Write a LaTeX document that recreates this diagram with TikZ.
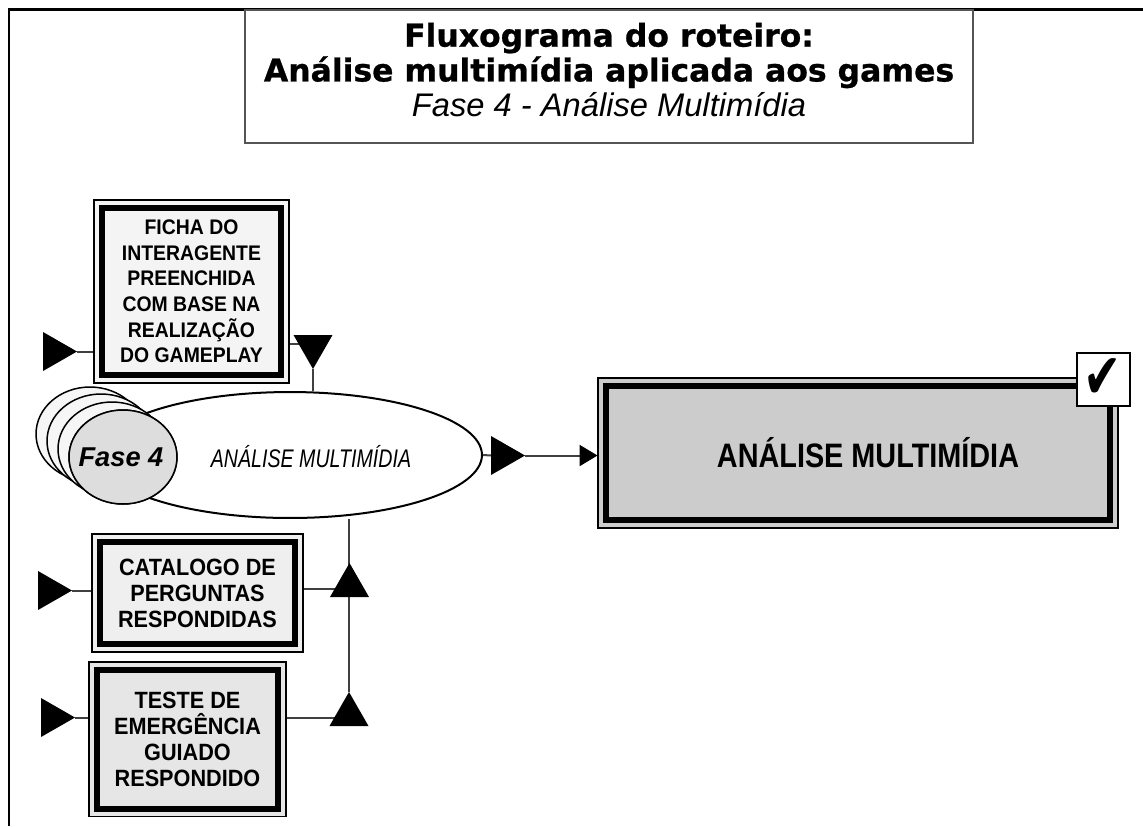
\documentclass[tikz,border=0pt]{standalone}
\usepackage{fontspec}
\setmainfont{Liberation Sans}
\newfontfamily\heavyfont{DejaVu Sans}[FakeBold=0.8]
\newfontfamily\boxfont{Liberation Sans}[FakeStretch=0.92]
\newfontfamily\narrowfont{Liberation Sans}[FakeStretch=0.85]
\newfontfamily\condfont{Liberation Sans}[FakeStretch=0.77]
\newfontfamily\checkfont{DejaVu Sans}[FakeStretch=0.72]
\usepackage{xcolor}
\usepackage{tikz}
\usetikzlibrary{
    shapes.geometric,
    positioning,
    arrows.meta,
    calc,
    backgrounds
}

\definecolor{finalgray}{HTML}{CCCCCC}
\definecolor{fichagray}{HTML}{F4F4F4}
\definecolor{catgray}{HTML}{EFEFEF}
\definecolor{testgray}{HTML}{E6E6E6}
\definecolor{phasegray}{HTML}{DDDDDD}
\definecolor{phaseback}{HTML}{F6F6F6}
\definecolor{linegray}{HTML}{404040}
\definecolor{titleline}{HTML}{555555}

\begin{document}
\begin{tikzpicture}[
      x=0.02cm, y=-0.02cm,
      pageframe/.style={draw, line width=0.06cm},
      titlebox/.style={draw=titleline, line width=0.04cm, minimum width=14.58cm, minimum height=2.66cm, align=center, font=\fontsize{18.6}{19.8}\selectfont},
      dbox/.style={draw, fill=#1, line width=0.12cm, outer sep=0.17cm, inner sep=2pt, align=center,
        preaction={draw, line width=0.04cm, double=#1, double distance=0.28cm}},
      inbox/.style={dbox=#1, font=\boxfont\bfseries\fontsize{13.4}{14.8}\selectfont},
      markT/.style={isosceles triangle, isosceles triangle stretches, fill=black, inner sep=0pt, outer sep=0pt, minimum width=0.78cm, minimum height=0.68cm},
      phase/.style={ellipse, draw, line width=0.03cm, fill=#1, minimum width=2.16cm, minimum height=1.88cm, inner sep=0pt},
      conn/.style={draw=linegray, line width=0.04cm}
    ]
    \useasboundingbox (0,0) rectangle (1143,826);
    \draw[pageframe] (1143,9) -- (9,9) -- (9,826);

    % title
    \node[titlebox] (title) at (609,76.5) {{\heavyfont\bfseries\fontsize{17.9}{19.8}\selectfont Fluxograma do roteiro:}\\{\heavyfont\bfseries\fontsize{17.9}{19.8}\selectfont Análise multimídia aplicada aos games}\\{\itshape Fase 4 - Análise Multimídia}\rule[-0.28cm]{0pt}{0.28cm}};

    % inputs
    \node[dbox=fichagray, minimum width=3.58cm, minimum height=3.34cm, font=\boxfont\bfseries\fontsize{12}{14.6}\selectfont] (ficha) at (191.5,291.5) {FICHA DO\\INTERAGENTE\\PREENCHIDA\\COM BASE NA\\REALIZAÇÃO\\DO GAMEPLAY};
    \node[inbox=catgray, minimum width=3.9cm, minimum height=2.04cm] (catalogo) at (197.5,593) {CATALOGO DE\\PERGUNTAS\\RESPONDIDAS};
    \node[inbox=testgray, minimum width=3.62cm, minimum height=2.78cm] (teste) at (187.5,739) {TESTE DE\\EMERGÊNCIA\\GUIADO\\RESPONDIDO};

    % phase
    \node[ellipse, draw, fill=white, line width=0.04cm, minimum width=7.68cm, minimum height=2.52cm] (elli) at (290,455) {};
    \node[font=\condfont\itshape\fontsize{14.5}{16}\selectfont] (elliTxt) at (311,457) {ANÁLISE MULTIMÍDIA};
    \foreach \i/\x/\y in {1/90/434, 2/101/441, 3/112/449, 4/123/457}
      \node[phase=phaseback] (fase\i) at (\x,\y) {};
    \node[fill=phasegray, ellipse, draw, line width=0.03cm, minimum width=2.16cm, minimum height=1.88cm] at (fase4) {};
    \node[font=\bfseries\itshape\fontsize{15.5}{17}\selectfont] (faseTxt) at (121,457) {Fase 4};

    % output
    \node[dbox=finalgray, minimum width=10.08cm, minimum height=2.68cm, font=\narrowfont\bfseries\fontsize{19.3}{21}\selectfont] (final) at (858,453) {\hspace*{0.4cm}ANÁLISE MULTIMÍDIA};
    \node[draw, fill=white, line width=0.04cm, minimum size=1.06cm, inner sep=0pt, font=\checkfont\fontsize{36}{36}\selectfont] (chk) at (1103,379) {✔};

    % markers
    \node[markT, anchor=apex] (in1) at (77,351.5) {};
    \node[markT, anchor=apex] (in2) at (72,590.5) {};
    \node[markT, anchor=apex] (in3) at (75,717.5) {};
    \node[markT, rotate=-90, anchor=apex] (dn) at (313,369) {};
    \node[markT, rotate=90, anchor=apex] (up1) at (349.5,563) {};
    \node[markT, rotate=90, anchor=apex] (up2) at (349,692) {};
    \node[markT, anchor=apex] (outT) at (525,455.5) {};

    \coordinate (dnIn) at ($(dn.apex)!.75!(dn.west)$);
    \coordinate (up1In) at ($(up1.apex)!.75!(up1.west)$);
    \coordinate (up2In) at ($(up2.apex)!.75!(up2.west)$);

    \begin{scope}[on background layer]
      \draw[conn] (in1.apex) -- (in1.apex -| ficha.west);
      \draw[conn] (in2.apex) -- (in2.apex -| catalogo.west);
      \draw[conn] (in3.apex) -- (in3.apex -| teste.west);
      \draw[conn] (dnIn -| ficha.east) -- (dnIn);
      \draw[conn] (dn.apex) -- (dn.apex |- elli.north);
      \draw[conn] (up1In -| catalogo.east) -- (up1In);
      \draw[conn] (up2In -| teste.east) -- (up2In);
      \draw[conn] (up2.apex) -- (up2.apex |- elli.south);
      \draw[conn] (elli.east) -- (outT.west);
      \draw[conn, -{Triangle[length=0.36cm, width=0.42cm, color=black]}] (outT.apex) -- (outT.apex -| final.west);
    \end{scope}
  \end{tikzpicture}
\end{document}
